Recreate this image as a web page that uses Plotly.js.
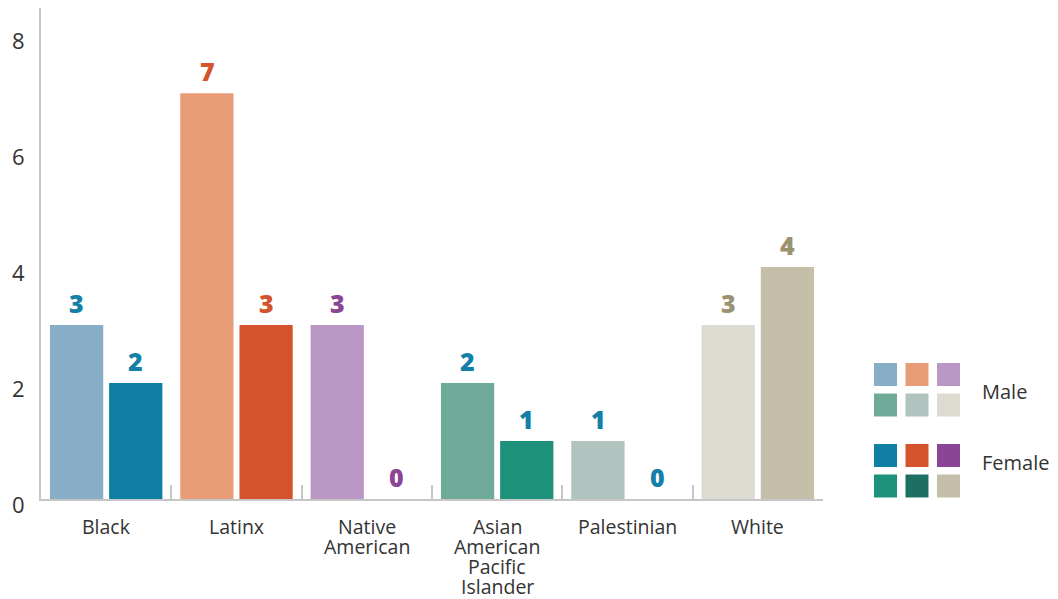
<!DOCTYPE html>
<html>
<head>
<meta charset="utf-8">
<script src="https://cdn.plot.ly/plotly-3.0.1.min.js"></script>
<style>html,body{margin:0;padding:0;background:#fff;}#chart{width:1058px;height:599px;}</style>
</head>
<body>
<div id="chart"></div>
<script>
const categories = ["Black", "Latinx", "Native<br>American", "Asian<br>American<br>Pacific<br>Islander", "Palestinian", "White"];
const maleValues = [3, 7, 3, 2, 1, 3];
const femaleValues = [2, 3, 0, 1, 0, 4];
const maleColors = ["#88adc6", "#e89c78", "#bb97c6", "#6faa99", "#b0c3bf", "#dddad0"];
const femaleColors = ["#0f7fa6", "#d5532a", "#8a4596", "#1d917a", "#1d7061", "#c5bfaa"];
const labelColors = ["#1380a8", "#d5532a", "#8a4596", "#1380a8", "#1380a8", "#9b9370"];
const yTicks = [0, 2, 4, 6, 8];
const legendNames = ["Male", "Female"];

const FONT = "Open Sans, sans-serif";
const textColor = "#333333";

const traces = [
  {type: "bar", name: "Male", x: categories, y: maleValues, marker: {color: maleColors}, hoverinfo: "y"},
  {type: "bar", name: "Female", x: categories, y: femaleValues, marker: {color: femaleColors}, hoverinfo: "y"}
];

const annotations = [];

// value labels above bars
const shiftX = 29.5;
[maleValues, femaleValues].forEach((vals, s) => {
  vals.forEach((v, i) => {
    annotations.push({
      x: categories[i], y: v, xref: "x", yref: "y",
      text: String(v), showarrow: false,
      xshift: s === 0 ? -shiftX : shiftX, yshift: 22, yanchor: "middle",
      font: {family: FONT, size: 25, weight: 800, color: labelColors[i]}
    });
  });
});

// category labels (tight line spacing)
const firstLine = -27.5, lineStep = 20;
categories.forEach(c => {
  c.split("<br>").forEach((line, j) => {
    annotations.push({
      x: c, y: 0, xref: "x", yref: "y", text: line, showarrow: false,
      yshift: firstLine - j * lineStep, yanchor: "middle",
      font: {family: FONT, size: 19.5, color: textColor}
    });
  });
});

// custom legend (swatch grid)
const W = 1058, H = 599, ml = 41, mr = 235, mt = 8, mb = 100;
const pw = W - ml - mr, ph = H - mt - mb;
const px = p => (p - ml) / pw;
const py = p => (H - mb - p) / ph;
const shapes = [];
const legendTop = [363, 444];
const legendTextY = [391, 462];
const colStart = 874, colStep = 31.5, rowStep = 30.5, sw = 23;
[maleColors, femaleColors].forEach((cols, g) => {
  cols.forEach((c, k) => {
    const col = k % 3, row = Math.floor(k / 3);
    const x0 = colStart + col * colStep, y0 = legendTop[g] + row * rowStep;
    shapes.push({type: "rect", xref: "paper", yref: "paper",
      x0: px(x0), x1: px(x0 + sw), y0: py(y0 + sw), y1: py(y0),
      fillcolor: c, line: {width: 0}});
  });
  annotations.push({
    xref: "paper", yref: "paper", x: px(980), y: py(legendTextY[g]),
    xanchor: "left", yanchor: "middle", showarrow: false,
    text: legendNames[g], font: {family: FONT, size: 20, color: textColor}
  });
});

const layout = {
  width: W, height: H,
  margin: {l: ml, r: mr, t: mt, b: mb, pad: 0},
  paper_bgcolor: "#ffffff", plot_bgcolor: "#ffffff",
  showlegend: false,
  barmode: "group", bargap: 0.092, bargroupgap: 0.1,
  font: {family: FONT, color: textColor},
  xaxis: {
    type: "category", showgrid: false, zeroline: false,
    showline: true, linecolor: "#c6c6c6", linewidth: 2,
    ticks: "inside", tickson: "boundaries", ticklen: 14, tickcolor: "#c6c6c6", tickwidth: 1.5,
    showticklabels: false
  },
  yaxis: {
    range: [0, 8.47], tickvals: yTicks, ticktext: yTicks.map(String),
    showgrid: false, zeroline: false,
    showline: true, linecolor: "#c6c6c6", linewidth: 2,
    ticks: "", tickfont: {family: FONT, size: 22, color: textColor},
    ticklabelstandoff: 10, ticklabelshift: 6
  },
  shapes: shapes,
  annotations: annotations
};

Plotly.newPlot("chart", traces, layout, {displayModeBar: false, responsive: false});
</script>
</body>
</html>
